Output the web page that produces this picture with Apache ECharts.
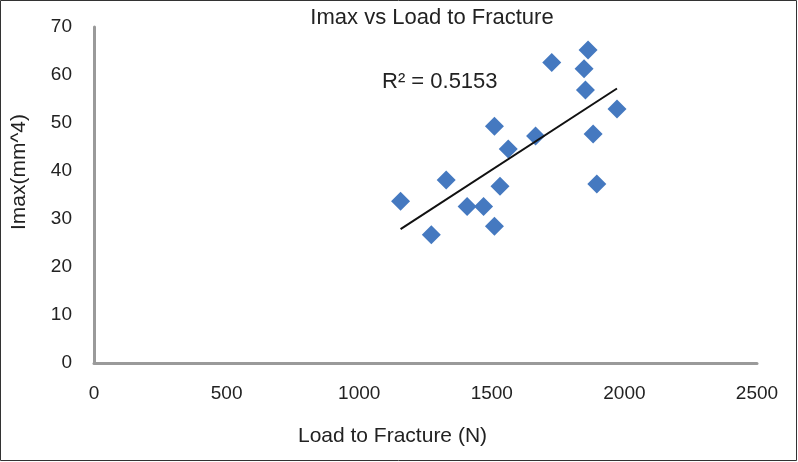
<!DOCTYPE html>
<html>
<head>
<meta charset="utf-8">
<script src="https://cdn.jsdelivr.net/npm/echarts@6/dist/echarts.min.js"></script>
<style>
html,body{margin:0;padding:0;background:#fff;}
#chart{width:798px;height:462px;}
</style>
</head>
<body>
<div id="chart"></div>
<script>
// load to fracture (N) vs Imax (mm^4)
var loadN = [1156, 1272, 1328, 1407, 1469, 1510, 1510, 1531, 1562, 1665, 1726, 1848, 1853, 1863, 1882, 1896, 1972];
var imax  = [33.7, 26.7, 38.1, 32.6, 32.6, 28.5, 49.3, 36.8, 44.6, 47.3, 62.6, 61.3, 56.9, 65.2, 47.7, 37.3, 52.9];
var xTicks = [0, 500, 1000, 1500, 2000, 2500];
var yTicks = [0, 10, 20, 30, 40, 50, 60, 70];

var points = loadN.map(function(x, i){ return [x, imax[i]]; });

// least squares trend line
function linFit(xs, ys){
    var n = xs.length, sx = 0, sy = 0, sxx = 0, sxy = 0;
    for(var i = 0; i < n; i++){
        sx += xs[i]; sy += ys[i];
        sxx += xs[i]*xs[i]; sxy += xs[i]*ys[i];
    }
    var b = (n*sxy - sx*sy)/(n*sxx - sx*sx);
    var a = (sy - b*sx)/n;
    return {a: a, b: b};
}
var fit = linFit(loadN, imax);
var xMin = Math.min.apply(null, loadN), xMax = Math.max.apply(null, loadN);
var trend = [[xMin, fit.a + fit.b*xMin], [xMax, fit.a + fit.b*xMax]];

var font = 'Liberation Sans, Arial, sans-serif';
var myChart = echarts.init(document.getElementById('chart'));

option = {
    animation: false,
    title: {
        text: 'Imax vs Load to Fracture',
        left: 427, top: 2, textAlign: 'center',
        textStyle: {fontFamily: font, fontSize: 22, fontWeight: 'normal', color: '#222'}
    },
    grid: {left: 94, right: 41, top: 27, bottom: 99},
    xAxis: {
        type: 'value',
        min: xTicks[0], max: xTicks[xTicks.length-1], interval: 500,
        name: 'Load to Fracture (N)',
        nameLocation: 'middle', nameGap: 63,
        nameTextStyle: {fontFamily: font, fontSize: 21, color: '#222', padding: [0, 66, 0, 0]},
        axisLine: {show: true, lineStyle: {color: '#9a9a9a', width: 3}},
        axisTick: {show: false},
        splitLine: {show: false},
        axisLabel: {margin: 21, fontFamily: font, fontSize: 19, color: '#222',
            formatter: function(v){ return String(v); }}
    },
    yAxis: {
        type: 'value',
        min: yTicks[0], max: yTicks[yTicks.length-1], interval: 10,
        name: 'Imax(mm^4)',
        nameLocation: 'middle', nameGap: 64, nameRotate: 90,
        nameTextStyle: {fontFamily: font, fontSize: 21, color: '#222', padding: [0, 0, 0, 46]},
        axisLine: {show: true, lineStyle: {color: '#9a9a9a', width: 3}},
        axisTick: {show: false},
        splitLine: {show: false},
        axisLabel: {margin: 22, fontFamily: font, fontSize: 19, color: '#222',
            formatter: function(v){ return String(v); }}
    },
    series: [
        {
            type: 'line',
            data: trend,
            symbol: 'none',
            lineStyle: {color: '#111', width: 2},
            z: 3
        },
        {
            type: 'scatter',
            data: points,
            symbol: 'diamond',
            symbolSize: [19, 19],
            itemStyle: {color: '#4579c0', opacity: 1},
            z: 2
        }
    ],
    graphic: [
        {
            type: 'text', left: 382, top: 71,
            style: {text: 'R² = 0.5153', font: '22px ' + font, fill: '#222'}
        },
        {
            type: 'rect', silent: true,
            shape: {x: 0.5, y: 0.5, width: 796, height: 460},
            style: {fill: 'none', stroke: '#333', lineWidth: 1}
        }
    ]
};

myChart.setOption(option);
</script>
</body>
</html>
